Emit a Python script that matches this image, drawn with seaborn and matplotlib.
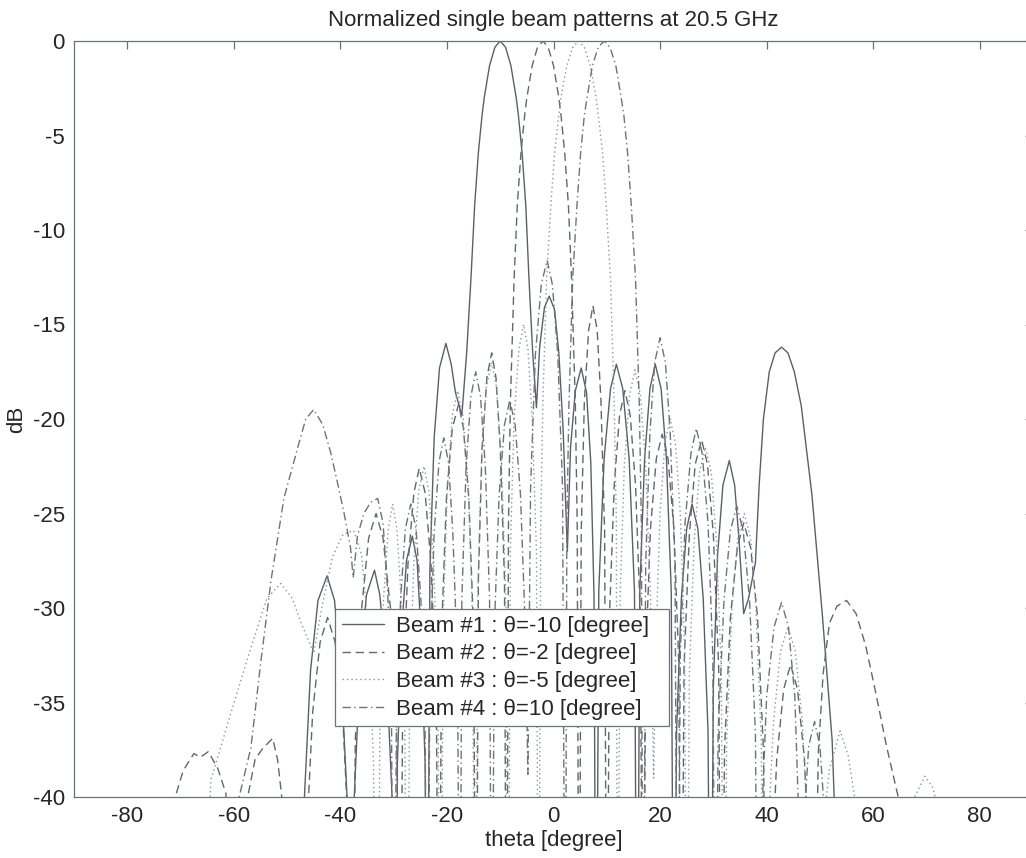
import matplotlib
matplotlib.use("Agg")
import matplotlib.pyplot as plt
import pandas as pd
import seaborn as sns

# ---- beam pattern samples (theta in degrees, normalized gain in dB) ----
beam1_theta = [-47.5, -46.8, -45.6, -44.2, -42.5, -41.1, -39.9, -38.7,
               -38.0, -37.4, -36.3, -35.1, -33.6, -32.6, -31.4, -30.3,
               -29.7, -29.3, -28.5, -27.6, -26.5, -25.6, -24.9, -24.1,
               -23.7, -23.2, -22.4, -21.4, -20.2, -19.2, -18.4,
               -17.2, -16.3, -15.5, -14.8, -14.1, -13.4, -13.0, -12.0, -11.0, -10.0,
               -9.0, -8.0, -7.0, -6.6, -5.9, -5.2, -4.6, -3.9,
               -3.2, -2.6, -1.7, -0.8, 0.2, 1.0, 1.8,
               2.6, 3.2, 4.1, 5.2, 6.2, 7.0, 7.6,
               8.0, 8.5, 9.5, 10.7, 11.8, 13.0, 14.2, 15.2,
               15.7, 16.2, 17.1, 18.1, 19.1, 20.2, 21.2, 22.1,
               22.6, 23.1, 24.0, 25.0, 26.0, 27.1, 28.1, 29.0,
               29.5, 30.0, 30.8, 31.8, 33.0, 34.0, 34.8,
               35.7, 36.6, 37.9, 38.6, 39.4, 40.5, 41.6, 42.8, 44.0, 45.2, 46.5,
               48.5, 50.5, 52.3, 53.3, 53.8]
beam1_db = [-55, -40.3, -33.3, -29.6, -28.3, -29.6, -33.3, -40.3,
            -55, -40.0, -33.0, -29.3, -28.0, -29.3, -33.0, -40.0,
            -55, -38.2, -31.2, -27.5, -26.2, -27.5, -31.2, -38.2,
            -55, -28.0, -21.0, -17.3, -16.0, -17.1, -18.6,
            -19.8, -16.5, -12.6, -8.7, -5.9, -3.9, -3.0, -1.3, -0.33, 0.0,
            -0.33, -1.3, -3.0, -3.9, -5.9, -8.7, -12.6, -16.5,
            -19.4, -16.2, -14.1, -13.5, -14.2, -16.5, -20.5,
            -27.0, -21.5, -18.5, -17.3, -18.6, -22.3, -29.3,
            -55, -29.1, -22.1, -18.4, -17.1, -18.4, -22.1, -29.1,
            -55, -29.1, -22.1, -18.4, -17.1, -18.4, -22.1, -29.1,
            -55, -36.5, -29.5, -25.8, -24.5, -25.8, -29.5, -36.5,
            -55, -34.2, -27.2, -23.5, -22.2, -23.5, -26.3,
            -30.3, -29.5, -27.6, -23.5, -20.0, -17.5, -16.5, -16.2, -16.5, -17.5, -19.3,
            -24.0, -30.5, -37.0, -45.0, -55]

beam2_theta = [-72.0, -71.0, -69.5, -67.5, -66.3, -64.8, -63.0, -61.5,
               -60.0, -57.4, -56.0, -54.5, -52.7, -51.8, -51.0, -50.5,
               -47.0, -46.4, -45.2, -43.8, -42.4, -41.0, -39.6, -38.4,
               -37.8, -37.2, -36.0, -34.7, -33.3, -32.0, -30.6, -29.4,
               -28.8, -28.3, -27.3, -26.2, -25.2, -24.1, -23.0, -22.0,
               -21.5, -21.0, -20.1, -19.0, -17.8, -16.9, -15.9, -15.0,
               -14.5, -14.1, -13.4, -12.5, -11.6, -10.8, -10.0, -9.2,
               -8.8, -8.45, -8.1, -7.4, -6.8, -6.1, -5.4, -5.0, -4.0, -3.0, -2.0,
               -1.0, 0.0, 1.0, 1.4, 2.1, 2.8, 3.4, 4.1, 4.45,
               4.8, 5.2, 5.8, 6.6, 7.4, 8.2, 8.9, 9.6,
               10.0, 10.5, 11.4, 12.4, 13.4, 14.4, 15.4, 16.3,
               16.8, 17.3, 18.2, 19.3, 20.4, 21.5, 22.6, 23.5,
               24.0, 24.5, 25.5, 26.6, 27.8, 28.9, 30.0, 31.0,
               31.5, 32.1, 33.2, 34.5, 35.7, 37.0, 38.3, 39.4,
               40.2, 40.8, 41.9, 43.2, 44.5, 45.8, 47.1, 48.2,
               48.8, 49.7, 50.6, 51.8, 53.2, 55.0, 56.8, 58.6, 60.5, 62.5, 64.7, 65.5]
beam2_db = [-50, -40.0, -38.6, -37.7, -37.9, -37.6, -38.5, -39.8,
            -50, -40.0, -38.0, -37.4, -36.9, -38.0, -40.0, -50,
            -55, -42.5, -35.5, -31.8, -30.5, -31.8, -35.5, -42.5,
            -55, -37.0, -30.0, -26.3, -25.0, -26.3, -30.0, -37.0,
            -55, -34.6, -27.6, -23.9, -22.6, -23.9, -27.6, -34.6,
            -55, -31.2, -24.2, -20.5, -19.2, -20.5, -24.2, -31.2,
            -55, -28.5, -21.5, -17.8, -16.5, -17.8, -21.5, -28.5,
            -55, -25.6, -19.2, -12.6, -8.7, -5.9, -3.9, -3.0, -1.3, -0.33, 0.0,
            -0.33, -1.3, -3.0, -3.9, -5.9, -8.7, -12.6, -19.2, -25.6,
            -55, -26.0, -19.0, -15.3, -14.0, -15.3, -19.0, -26.0,
            -55, -30.5, -23.5, -19.8, -18.5, -19.8, -23.5, -30.5,
            -55, -32.8, -25.8, -22.1, -20.8, -22.1, -25.8, -32.8,
            -55, -33.1, -26.1, -22.4, -21.1, -22.4, -26.1, -33.1,
            -55, -37.5, -30.5, -26.8, -25.5, -26.8, -30.5, -37.5,
            -55, -45.0, -38.0, -34.3, -33.0, -34.3, -38.0, -45.0,
            -55, -37.7, -33.5, -30.8, -29.9, -29.6, -30.3, -32.0, -34.5, -37.3, -40.0, -50]

beam3_theta = [-66.0, -64.3, -60.6, -56.8, -53.8, -51.2, -49.0, -47.5,
               -45.0, -43.5, -41.5, -39.5, -37.5, -36.0, -34.8, -33.8,
               -33.0, -32.6, -31.9, -31.0, -30.2, -29.4, -28.6, -27.9,
               -27.5, -27.0, -26.2, -25.3, -24.3, -23.4, -22.5, -21.7,
               -21.2, -20.7, -19.9, -19.0, -18.0, -17.0, -16.0, -15.2,
               -14.7, -14.2, -13.5, -12.6, -11.6, -10.7, -9.8, -9.0,
               -8.5, -8.1, -7.4, -6.5, -5.6, -4.8, -4.0, -3.2,
               -2.8, -2.4, -2.0, -1.3, -0.5, 0.2, 1.0, 1.4, 2.5, 3.6, 4.7,
               5.8, 6.9, 8.0, 8.4, 9.2, 9.9, 10.7, 11.4, 11.8,
               12.0, 12.5, 13.3, 14.3, 15.3, 16.3, 17.3, 18.2,
               18.8, 19.2, 20.0, 20.9, 21.9, 22.9, 23.8, 24.6,
               25.0, 25.5, 26.4, 27.4, 28.5, 29.6, 30.6, 31.5,
               32.0, 32.5, 33.5, 34.6, 35.8, 37.0, 38.0, 39.0,
               39.5, 40.1, 41.3, 42.6, 44.0, 45.4, 46.7, 47.9,
               48.5, 50.5, 51.8, 53.8, 55.3, 56.5, 57.5,
               66.5, 67.8, 69.7, 71.2, 72.5, 73.5]
beam3_db = [-50, -39.1, -35.6, -32.1, -29.5, -28.7, -29.5, -30.7,
            -32.4, -30.0, -27.3, -26.1, -25.9, -27.2, -31.0, -38.0,
            -55, -36.5, -29.5, -25.8, -24.5, -25.8, -29.5, -36.5,
            -55, -34.5, -27.5, -23.8, -22.5, -23.8, -27.5, -34.5,
            -55, -30.5, -23.5, -19.8, -18.5, -19.8, -23.5, -30.5,
            -55, -29.0, -22.0, -18.3, -17.0, -18.3, -22.0, -29.0,
            -55, -27.0, -20.0, -16.3, -15.0, -16.3, -20.0, -27.0,
            -55, -25.6, -19.2, -12.6, -8.7, -5.9, -3.9, -3.0, -1.3, -0.33, 0.0,
            -0.33, -1.3, -3.0, -3.9, -5.9, -8.7, -12.6, -19.2, -25.6,
            -55, -29.4, -22.4, -18.7, -17.4, -18.7, -22.4, -29.4,
            -39.0, -32.0, -25.0, -21.3, -20.0, -21.3, -25.0, -32.0,
            -55, -33.5, -26.5, -22.8, -21.5, -22.8, -26.5, -33.5,
            -55, -37.0, -30.0, -26.3, -25.0, -26.3, -30.0, -37.0,
            -55, -43.0, -36.0, -32.3, -31.0, -32.3, -36.0, -43.0,
            -55, -42.0, -38.5, -36.5, -37.8, -40.0, -50,
            -50, -40.0, -38.9, -39.5, -41.0, -50]

beam4_theta = [-60.0, -59.0, -56.8, -55.0, -53.0, -50.6, -48.0, -46.5, -45.0,
               -43.3, -41.8, -40.6, -39.3, -38.1, -37.6,
               -36.8, -35.6, -34.3, -33.0, -32.0, -31.1, -30.4, -30.0,
               -29.5, -28.7, -27.8, -26.8, -25.8, -24.9, -24.1, -23.6,
               -23.2, -22.4, -21.5, -20.6, -19.7, -18.9, -18.0, -17.6,
               -17.2, -16.4, -15.5, -14.6, -13.7, -12.8, -12.0, -11.6,
               -11.1, -10.2, -9.2, -8.2, -7.2, -6.2, -5.3, -4.8,
               -4.3, -3.4, -2.3, -1.2, -0.2, 0.8, 1.7,
               2.2, 2.5, 2.9, 3.6, 4.4, 5.1, 5.8, 6.3, 7.3, 8.4, 9.5,
               10.6, 11.7, 12.7, 13.2, 13.9, 14.6, 15.4, 16.1, 16.5,
               16.8, 17.3, 18.1, 19.0, 20.0, 21.0, 21.9, 22.8,
               23.3, 23.8, 24.7, 25.8, 26.8, 27.9, 29.0, 29.9,
               30.4, 30.9, 32.0, 33.2, 34.4, 35.6, 36.8, 37.9,
               38.4, 39.0, 40.0, 41.4, 42.8, 44.1, 45.3, 46.1,
               46.6, 47.1, 47.9, 49.0, 50.0, 50.9, 51.8]
beam4_db = [-50, -40.0, -37.4, -33.0, -28.5, -24.2, -21.5, -20.0, -19.5,
            -20.3, -21.8, -23.3, -25.0, -26.8, -28.4,
            -26.2, -25.0, -24.4, -24.2, -25.5, -29.2, -36.2, -55,
            -36.5, -29.5, -25.8, -24.5, -25.8, -29.5, -36.5, -55,
            -33.0, -26.0, -22.3, -21.0, -22.3, -26.0, -33.0, -55,
            -29.5, -22.5, -18.8, -17.5, -18.8, -22.5, -29.5, -55,
            -31.0, -24.0, -20.3, -19.0, -20.3, -24.0, -31.0, -38.8,
            -23.6, -16.6, -12.9, -11.6, -12.9, -16.6, -23.6,
            -55, -25.6, -19.2, -12.6, -8.7, -5.9, -3.9, -3.0, -1.3, -0.33, 0.0,
            -0.33, -1.3, -3.0, -3.9, -5.9, -8.7, -12.6, -19.2, -25.6,
            -55, -27.7, -20.7, -17.0, -15.7, -17.0, -20.7, -27.7,
            -55, -32.5, -25.5, -21.8, -20.5, -21.8, -25.5, -32.5,
            -55, -36.6, -29.6, -25.9, -24.6, -25.9, -29.6, -36.6,
            -55, -41.7, -34.7, -31.0, -29.7, -31.0, -34.7, -41.7,
            -55, -41.0, -37.3, -36.0, -37.3, -41.0, -55]

beam_labels = ["Beam #1 : \u03b8=-10 [degree]",
               "Beam #2 : \u03b8=-2 [degree]",
               "Beam #3 : \u03b8=-5 [degree]",
               "Beam #4 : \u03b8=10 [degree]"]
x_ticks = [-80, -60, -40, -20, 0, 20, 40, 60, 80]
y_ticks = [0, -5, -10, -15, -20, -25, -30, -35, -40]

# ---- assemble long-form table ----
frames = []
for lab, th, db in zip(beam_labels,
                       [beam1_theta, beam2_theta, beam3_theta, beam4_theta],
                       [beam1_db, beam2_db, beam3_db, beam4_db]):
    frames.append(pd.DataFrame({"theta": th, "dB": db, "beam": lab}))
df = pd.concat(frames, ignore_index=True)

# ---- styling ----
sns.set_theme(style="white")
plt.rcParams["font.family"] = ["Liberation Sans", "DejaVu Sans"]
plt.rcParams["axes.unicode_minus"] = False

axis_gray = "#6d7277"
text_col = "#262626"
palette = dict(zip(beam_labels, ["#5b6068", "#62676f", "#8f949b", "#6e737a"]))
dashes = dict(zip(beam_labels, ["", (6, 3.5), (1, 2.2), (6, 2.5, 1, 2.5)]))

fig = plt.figure(figsize=(10.26, 8.58), dpi=100)
ax = fig.add_axes([74 / 1026, 61 / 858, 959 / 1026, 756 / 858])

sns.lineplot(data=df, x="theta", y="dB", hue="beam", style="beam",
             hue_order=beam_labels, style_order=beam_labels,
             palette=palette, dashes=dashes, linewidth=1.0,
             estimator=None, sort=False, legend=False, ax=ax)

ax.set_xlim(-90, 90)
ax.set_ylim(-40, 0)
ax.set_xticks(x_ticks)
ax.set_yticks(y_ticks)
ax.set_xticklabels([str(v) for v in x_ticks])
ax.set_yticklabels([str(v) for v in y_ticks])

ax.tick_params(direction="in", length=5.5, width=0.9, color=axis_gray,
               labelcolor=text_col, labelsize=16, pad=6.5,
               top=True, right=True)
for sp in ax.spines.values():
    sp.set_color(axis_gray)
    sp.set_linewidth(0.9)

ax.set_title("Normalized single beam patterns at 20.5 GHz",
             fontsize=16, color=text_col, pad=11)
ax.set_xlabel("theta [degree]", fontsize=16, color=text_col, labelpad=2)
ax.set_ylabel("dB", fontsize=16, color=text_col, labelpad=4)

# legend box spans a fixed rectangle in figure coordinates
leg_x0, leg_top = 335 / 1026, 1 - 609 / 858
leg_w, leg_h = (669 - 335) / 1026, (727 - 609) / 858
leg = ax.legend(ax.get_lines()[:4], beam_labels,
                loc="upper left",
                bbox_to_anchor=(leg_x0, leg_top - leg_h, leg_w, leg_h),
                bbox_transform=fig.transFigure, mode="expand", fontsize=16,
                frameon=True, fancybox=False, shadow=False, framealpha=1,
                edgecolor=axis_gray, borderpad=0.3, labelspacing=0.3,
                handlelength=1.9, handletextpad=0.55, borderaxespad=0)
leg.get_frame().set_linewidth(0.9)
for t in leg.get_texts():
    t.set_color(text_col)

fig.savefig("out.png", dpi=100, facecolor="white")
